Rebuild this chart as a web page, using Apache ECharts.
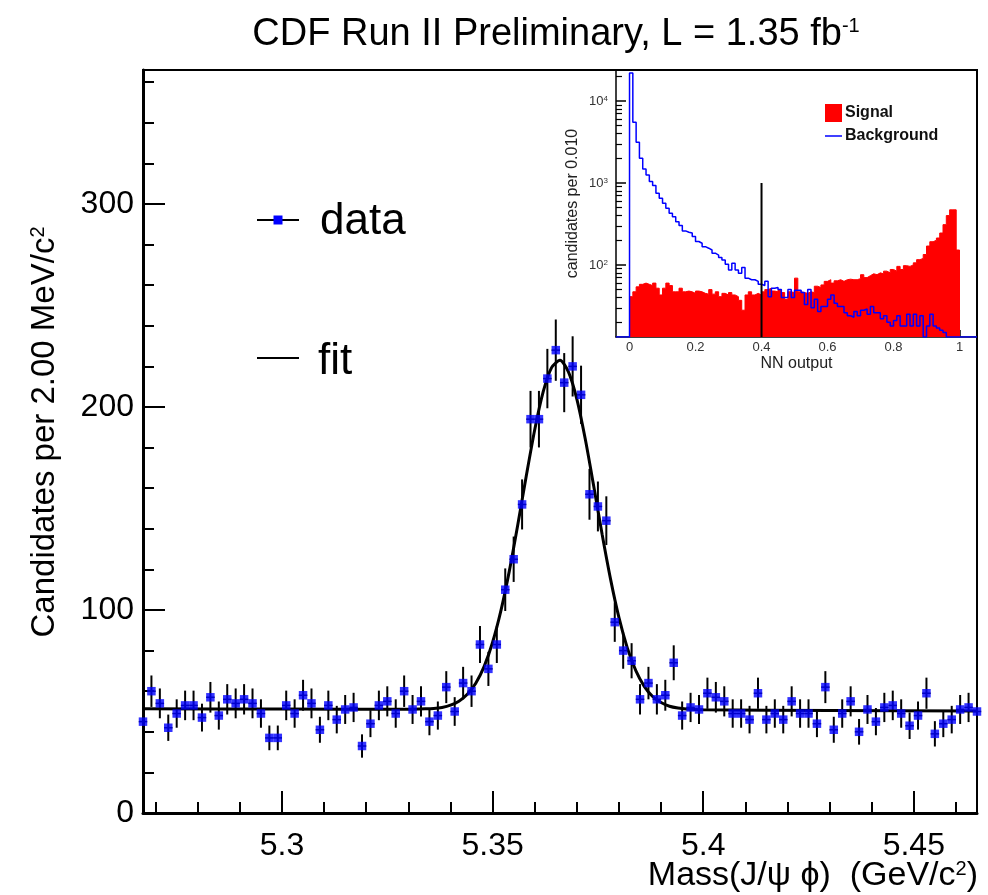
<!DOCTYPE html>
<html>
<head>
<meta charset="utf-8">
<script src="https://cdn.jsdelivr.net/npm/echarts@6/dist/echarts.min.js"></script>
<style>
  html, body { margin: 0; padding: 0; background: #fff; }
  #chart { width: 988px; height: 895px; }
</style>
</head>
<body>
<div id="chart"></div>
<script>
// ---- J/psi phi invariant-mass histogram, 2 MeV/c^2 bins ----
const massFirstBin = 5.267;
const massBinWidth = 0.002;
const candidates = [
  45, 60, 54, 42, 49, 53, 53, 47, 57, 48,
  56, 54, 56, 54, 49, 37, 37, 53, 49, 58,
  54, 41, 53, 46, 51, 52, 33, 44, 53, 55,
  49, 60, 51, 55, 45, 48, 62, 50, 64, 60,
  83, 71, 83, 110, 125, 152, 194, 194, 214, 228,
  212, 220, 206, 157, 151, 144, 94, 80, 75, 56,
  64, 56, 58, 74, 48, 52, 51, 59, 57, 55,
  49, 49, 46, 59, 46, 49, 46, 55, 49, 49,
  44, 62, 41, 49, 55, 40, 51, 45, 52, 53,
  49, 43, 48, 59, 39, 44, 46, 51, 52, 50
];

// fitted model (Gaussian peak on flat background), sampled along the mass axis
const fitMass = [
  5.267, 5.300, 5.330, 5.334, 5.336, 5.338, 5.340, 5.342, 5.344, 5.346,
  5.348, 5.350, 5.352, 5.354, 5.356, 5.358, 5.360, 5.362, 5.364, 5.366,
  5.368, 5.370, 5.372, 5.374, 5.376, 5.378, 5.380, 5.382, 5.384, 5.386,
  5.388, 5.390, 5.392, 5.394, 5.396, 5.400, 5.430, 5.465
];
const fitValue = [
  51.3, 51.2, 51.1, 51.3, 51.5, 52.0, 53.1, 55.1, 58.5, 63.9,
  72.2, 84.1, 99.9, 119.5, 142.2, 166.1, 188.8, 207.4, 219.4, 223.0,
  217.3, 203.9, 184.2, 161.1, 137.3, 115.2, 96.2, 81.2, 70.1, 62.4,
  57.4, 54.4, 52.6, 51.7, 51.2, 50.8, 50.5, 50.2
];

const massTicks = [5.3, 5.35, 5.4, 5.45];
const massMinorTicks = [5.27, 5.28, 5.29, 5.31, 5.32, 5.33, 5.34, 5.36, 5.37, 5.38, 5.39, 5.41, 5.42, 5.43, 5.44, 5.46];
const countTicks = [0, 100, 200, 300];
const countMinorTicks = [20, 40, 60, 80, 120, 140, 160, 180, 220, 240, 260, 280, 320, 340, 360];

// ---- neural-network output, candidates per 0.010 ----
const nnBinWidth = 0.01;
const nnSignal = [
  41, 47, 54, 58, 60, 58, 56, 60, 52, 43,
  52, 60, 56, 47, 47, 52, 47, 48, 47, 45,
  48, 47, 45, 44, 50, 44, 47, 41, 45, 43,
  46, 43, 41, 37, 28, 43, 47, 43, 45, 43,
  47, 50, 52, 48, 47, 50, 46, 38, 47, 46,
  69, 47, 46, 45, 47, 46, 55, 53, 57, 63,
  66, 60, 64, 66, 63, 66, 67, 66, 66, 68,
  76, 70, 74, 78, 76, 80, 78, 84, 80, 88,
  84, 96, 88, 98, 96, 100, 106, 116, 120, 134,
  170, 192, 200, 213, 245, 310, 400, 470, 470, 152
];
const nnBackground = [
  22000, 5500, 3130, 2000, 1480, 1250, 1040, 930, 750, 650,
  565, 490, 427, 388, 337, 302, 260, 250, 245, 222,
  193, 184, 167, 160, 152, 139, 132, 123, 115, 102,
  87, 105, 87, 79, 93, 69, 66, 66, 63, 58,
  56, 63, 41, 52, 53, 50, 40, 40, 50, 40,
  49, 49, 46, 33, 50, 30, 38, 27, 31, 31,
  38, 43, 34, 31, 31, 26, 24, 23, 27, 24,
  28, 29, 25, 31, 26, 26, 22, 24, 20, 18,
  21, 24, 18, 18, 25, 18, 25, 18, 24, 0,
  18, 25, 18, 17, 16, 15, 0, 0, 0, 0
];
const nnCut = 0.4;
const nnCutHeight = 1000;
const nnRange = [-0.041, 1.053];
const nnCountRange = [13.2, 23900];
const nnTicks = [0, 0.2, 0.4, 0.6, 0.8, 1];
const nnMinorTicks = [0.05, 0.1, 0.15, 0.25, 0.3, 0.35, 0.45, 0.5, 0.55, 0.65, 0.7, 0.75, 0.85, 0.9, 0.95];
const nnDecades = [100, 1000, 10000];
const nnSubDecades = [20, 30, 40, 50, 60, 70, 80, 90, 200, 300, 400, 500, 600, 700, 800, 900,
                      2000, 3000, 4000, 5000, 6000, 7000, 8000, 9000, 20000];

// ---------------------------------------------------------------------------
const FONT = "'Liberation Sans', Arial, Helvetica, sans-serif";
const lg = v => Math.log10(v);
const logFloor = lg(nnCountRange[0]);

const massData = candidates.map((n, i) => [+(massFirstBin + i * massBinWidth).toFixed(3), n]);
const fitData = fitMass.map((m, i) => [m, fitValue[i]]);

// step outlines on a log10 count scale (empty bins sit on the axis floor)
const toLog = v => (v > 0 ? lg(v) : logFloor);
const signalStep = nnSignal.map((v, i) => [+(i * nnBinWidth).toFixed(2), toLog(v)]);
signalStep.push([1, logFloor]);
const backgroundStep = [[nnRange[0], logFloor], [0, logFloor]]
  .concat(nnBackground.map((v, i) => [+(i * nnBinWidth).toFixed(2), toLog(v)]))
  .concat([[1, logFloor], [nnRange[1], logFloor]]);

const black = '#000';
const tickStyle = (w) => ({ color: black, width: w });
const supStyle = { fontSize: 20, fontFamily: FONT, fill: black, verticalAlign: 'top' };

const chart = echarts.init(document.getElementById('chart'), null, { renderer: 'canvas' });

chart.setOption({
  animation: false,
  backgroundColor: '#fff',
  grid: [
    { left: 143, top: 70, right: 11, bottom: 82, show: true, borderColor: black, borderWidth: 2, backgroundColor: 'transparent' },
    { left: 616, top: 70, right: 11, bottom: 558, show: false }
  ],
  xAxis: [
    {
      gridIndex: 0, type: 'value', min: 5.267, max: 5.465, position: 'bottom',
      axisLine: { onZero: false, lineStyle: { color: black, width: 3 } },
      axisTick: { inside: true, length: 22, customValues: massTicks, lineStyle: tickStyle(2) },
      axisLabel: { customValues: massTicks, color: black, fontSize: 32, fontFamily: FONT, margin: 17,
                   formatter: v => String(+(+v).toFixed(3)) },
      splitLine: { show: false }
    },
    {
      gridIndex: 0, type: 'value', min: 5.267, max: 5.465, position: 'bottom',
      axisLine: { show: false, onZero: false },
      axisTick: { inside: true, length: 11, customValues: massMinorTicks, lineStyle: tickStyle(2) },
      axisLabel: { show: false }, splitLine: { show: false }
    },
    {
      gridIndex: 1, type: 'value', min: nnRange[0], max: nnRange[1], position: 'bottom',
      axisLine: { onZero: false, lineStyle: { color: black, width: 1.5 } },
      axisTick: { inside: true, length: 7, customValues: nnTicks, lineStyle: tickStyle(1.5) },
      axisLabel: { customValues: nnTicks, color: '#333', fontSize: 13, fontFamily: FONT, margin: 4,
                   formatter: v => String(+(+v).toFixed(2)) },
      splitLine: { show: false },
      name: 'NN output', nameLocation: 'middle', nameGap: 19,
      nameTextStyle: { color: '#222', fontSize: 16, fontFamily: FONT }
    },
    {
      gridIndex: 1, type: 'value', min: nnRange[0], max: nnRange[1], position: 'bottom',
      axisLine: { show: false, onZero: false },
      axisTick: { inside: true, length: 4, customValues: nnMinorTicks, lineStyle: tickStyle(1.2) },
      axisLabel: { show: false }, splitLine: { show: false }
    }
  ],
  yAxis: [
    {
      gridIndex: 0, type: 'value', min: 0, max: 366, position: 'left',
      axisLine: { onZero: false, lineStyle: { color: black, width: 3 } },
      axisTick: { inside: true, length: 22, customValues: countTicks, lineStyle: tickStyle(2) },
      axisLabel: { customValues: countTicks, color: black, fontSize: 32, fontFamily: FONT, margin: 9,
                   padding: [6, 0, 0, 0] },
      splitLine: { show: false }
    },
    {
      gridIndex: 0, type: 'value', min: 0, max: 366, position: 'left',
      axisLine: { show: false, onZero: false },
      axisTick: { inside: true, length: 11, customValues: countMinorTicks, lineStyle: tickStyle(2) },
      axisLabel: { show: false }, splitLine: { show: false }
    },
    {
      gridIndex: 1, type: 'value', min: lg(nnCountRange[0]), max: lg(nnCountRange[1]), position: 'left',
      axisLine: { onZero: false, lineStyle: { color: black, width: 1.5 } },
      axisTick: { inside: true, length: 10, customValues: nnDecades.map(lg), lineStyle: tickStyle(1.5) },
      axisLabel: {
        customValues: nnDecades.map(lg), color: '#333', fontFamily: FONT, margin: 8,
        formatter: v => '{b|10}{s|' + Math.round(v) + '}',
        rich: { b: { fontSize: 13, color: '#333', fontFamily: FONT }, s: { fontSize: 8, color: '#333', verticalAlign: 'top', fontFamily: FONT } }
      },
      splitLine: { show: false },
      name: 'candidates per 0.010', nameLocation: 'middle', nameRotate: 90, nameGap: 35,
      nameTextStyle: { color: '#222', fontSize: 16, fontFamily: FONT }
    },
    {
      gridIndex: 1, type: 'value', min: lg(nnCountRange[0]), max: lg(nnCountRange[1]), position: 'left',
      axisLine: { show: false, onZero: false },
      axisTick: { inside: true, length: 6, customValues: nnSubDecades.map(lg), lineStyle: tickStyle(1.2) },
      axisLabel: { show: false }, splitLine: { show: false }
    }
  ],
  series: [
    {
      name: 'data errors', type: 'custom', xAxisIndex: 0, yAxisIndex: 0, z: 2, clip: false,
      data: massData,
      renderItem: (params, api) => {
        const m = api.value(0), n = api.value(1), e = Math.sqrt(n);
        const top = api.coord([m, n + e]), bot = api.coord([m, n - e]);
        const l = api.coord([m - massBinWidth / 2, n]), r = api.coord([m + massBinWidth / 2, n]);
        return {
          type: 'group',
          children: [
            { type: 'line', shape: { x1: top[0], y1: top[1], x2: bot[0], y2: bot[1] }, style: { stroke: black, lineWidth: 2 } },
            { type: 'line', shape: { x1: l[0], y1: l[1], x2: r[0], y2: r[1] }, style: { stroke: black, lineWidth: 1.5 } }
          ]
        };
      }
    },
    {
      name: 'fit', type: 'line', xAxisIndex: 0, yAxisIndex: 0, z: 3,
      data: fitData, smooth: 0.25, showSymbol: false, symbol: 'none',
      lineStyle: { color: black, width: 3 }
    },
    {
      name: 'data', type: 'scatter', xAxisIndex: 0, yAxisIndex: 0, z: 4, clip: false,
      data: massData, symbol: 'rect', symbolSize: 8.5,
      itemStyle: { color: '#0000ff', borderWidth: 0 }
    },
    {
      name: 'Signal', type: 'line', xAxisIndex: 2, yAxisIndex: 2, z: 2,
      data: signalStep, step: 'end', showSymbol: false, symbol: 'none',
      lineStyle: { color: '#ff0000', width: 1 },
      areaStyle: { color: '#ff0000', opacity: 1, origin: 'start' }
    },
    {
      name: 'Background', type: 'line', xAxisIndex: 2, yAxisIndex: 2, z: 3,
      data: backgroundStep, step: 'end', showSymbol: false, symbol: 'none',
      lineStyle: { color: '#0000ff', width: 1.5 }
    },
    {
      name: 'NN cut', type: 'line', xAxisIndex: 2, yAxisIndex: 2, z: 4,
      data: [[nnCut, logFloor], [nnCut, lg(nnCutHeight)]], showSymbol: false, symbol: 'none',
      lineStyle: { color: black, width: 2 }
    }
  ],
  graphic: [
    { type: 'text', x: 556, y: 35, z: 10,
      style: { text: 'CDF Run II Preliminary, L = 1.35 fb{s|-1}', fill: black, font: '38px ' + FONT,
               align: 'center', verticalAlign: 'middle', rich: { s: supStyle } } },
    { type: 'text', x: 45, y: 432, rotation: Math.PI / 2, z: 10,
      style: { text: 'Candidates per 2.00 MeV/c{s|2}', fill: black, font: '33px ' + FONT,
               align: 'center', verticalAlign: 'middle', rich: { s: supStyle } } },
    { type: 'text', x: 978, y: 876, z: 10,
      style: { text: 'Mass(J/\u03c8 \u03d5)  (GeV/c{s|2})', fill: black, font: '34px ' + FONT,
               align: 'right', verticalAlign: 'middle', rich: { s: supStyle } } },
    // legend of the mass plot
    { type: 'line', z: 10, shape: { x1: 257, y1: 220, x2: 299, y2: 220 }, style: { stroke: black, lineWidth: 2 } },
    { type: 'rect', z: 11, shape: { x: 273.5, y: 215.5, width: 9, height: 9 }, style: { fill: '#0000ff' } },
    { type: 'text', x: 320, y: 222, z: 10,
      style: { text: 'data', fill: black, font: '44px ' + FONT, align: 'left', verticalAlign: 'middle' } },
    { type: 'line', z: 10, shape: { x1: 257, y1: 358, x2: 299, y2: 358 }, style: { stroke: black, lineWidth: 2 } },
    { type: 'text', x: 318, y: 362, z: 10,
      style: { text: 'fit', fill: black, font: '44px ' + FONT, align: 'left', verticalAlign: 'middle' } },
    // legend of the NN-output inset
    { type: 'rect', z: 10, shape: { x: 825, y: 104, width: 17, height: 18 }, style: { fill: '#ff0000' } },
    { type: 'text', x: 845, y: 113, z: 10,
      style: { text: 'Signal', fill: '#111', font: 'bold 16px ' + FONT, align: 'left', verticalAlign: 'middle' } },
    { type: 'line', z: 10, shape: { x1: 825, y1: 136, x2: 842, y2: 136 }, style: { stroke: '#0000ff', lineWidth: 1.5 } },
    { type: 'text', x: 845, y: 136, z: 10,
      style: { text: 'Background', fill: '#111', font: 'bold 16px ' + FONT, align: 'left', verticalAlign: 'middle' } }
  ]
});
</script>
</body>
</html>
